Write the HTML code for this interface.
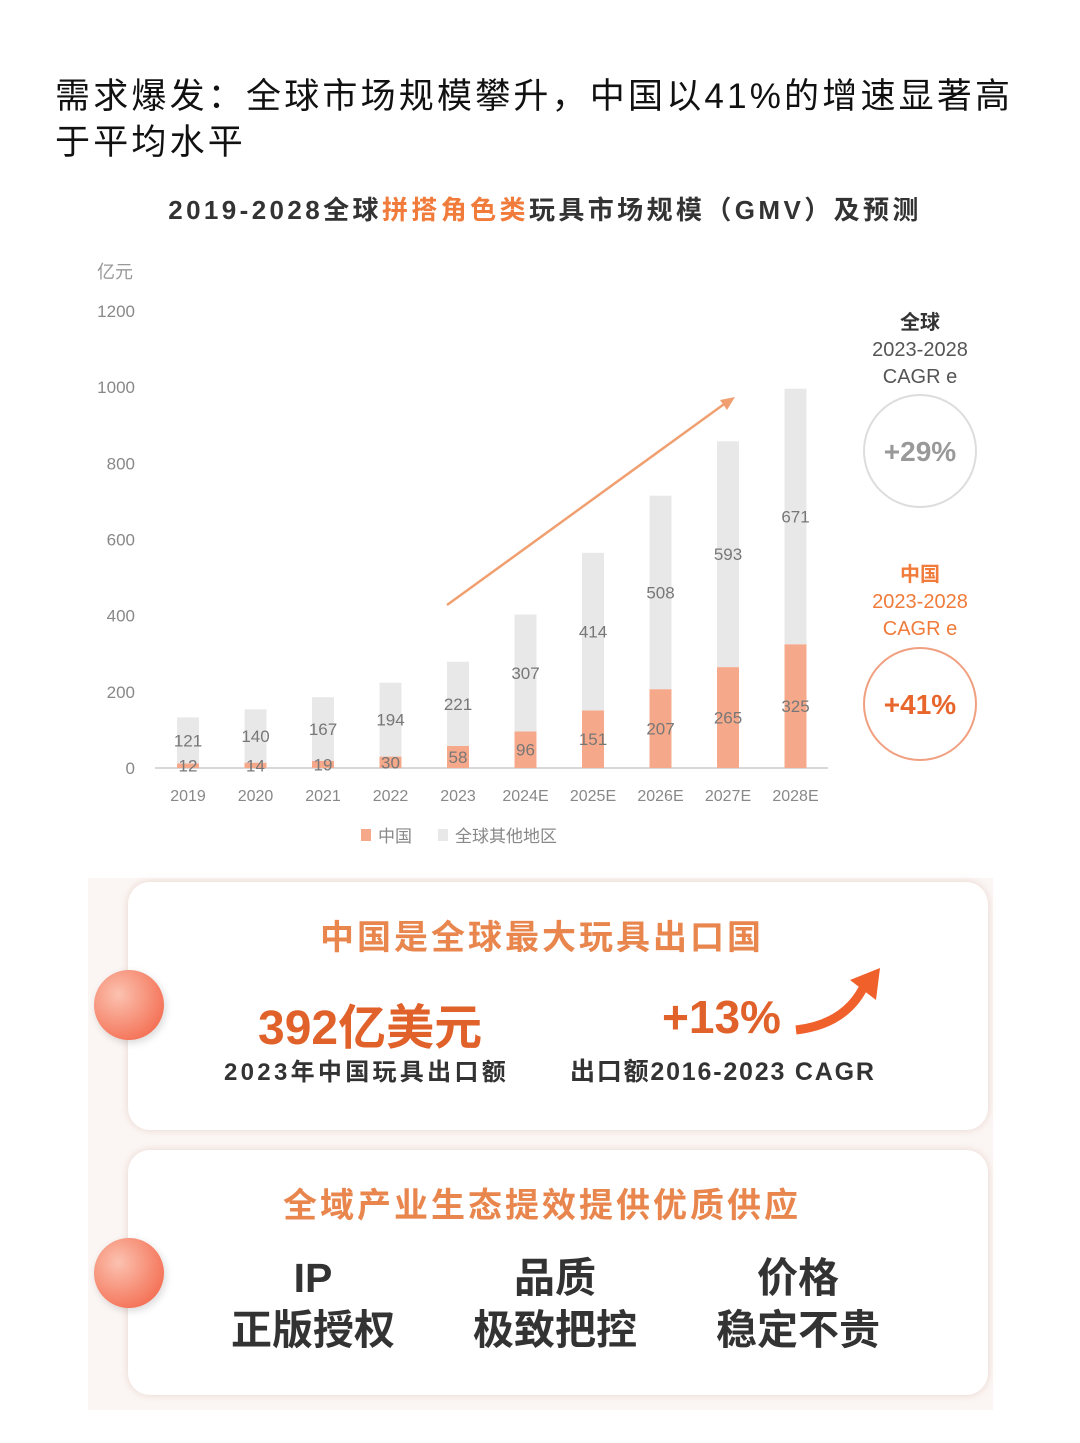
<!DOCTYPE html>
<html><head><meta charset="utf-8"><style>
body{margin:0;width:1080px;height:1443px;background:#fff;position:relative;overflow:hidden;font-family:"Liberation Sans","Noto Sans CJK SC",sans-serif}
.a{position:absolute}
.hdr{left:55px;font-size:35px;letter-spacing:3.2px;color:#111;line-height:46px;white-space:nowrap}
.card{position:absolute;left:128px;width:860px;background:#fff;border-radius:22px;box-shadow:0 0 8px rgba(200,150,130,.35)}
.dot{position:absolute;left:94px;width:70px;height:70px;border-radius:50%;background:radial-gradient(circle at 35% 35%,#fbc2b0,#f25a3c);box-shadow:2px 3px 8px rgba(0,0,0,.15)}
.ct{position:absolute;width:100%;text-align:center;color:#e8864e;font-weight:bold;font-size:34px;letter-spacing:3px}
.big{position:absolute;text-align:center;font-weight:bold;color:#333;font-size:41px;line-height:52px}
</style></head><body>
<div class="a hdr" style="top:74px">需求爆发：全球市场规模攀升，中国以41%的增速显著高</div>
<div class="a hdr" style="top:120px">于平均水平</div>
<div class="a" style="left:0;width:1090px;top:190px;text-align:center;font-size:26px;letter-spacing:3.4px;font-weight:bold;color:#333;white-space:nowrap">2019-2028全球<span style="color:#f07b3a">拼搭角色类</span>玩具市场规模（GMV）及预测</div>
<svg class="a" style="left:0;top:240px" width="1080" height="630">
<g id="g" transform="translate(0,-240)"></g>
</svg>
<div class="a" style="left:88px;top:878px;width:905px;height:532px;background:#fbf6f4"></div>
<div class="card" style="top:882px;height:248px">
<div class="ct" style="top:28px;left:-16px">中国是全球最大玩具出口国</div>
<div class="a" style="left:130px;top:106px;color:#e0612a;font-weight:bold;font-size:48px;white-space:nowrap">392亿美元</div>
<div class="a" style="left:96px;top:170px;color:#333;font-weight:bold;font-size:24px;letter-spacing:3.3px;white-space:nowrap">2023年中国玩具出口额</div>
<div class="a" style="left:534px;top:108px;color:#e0612a;font-weight:bold;font-size:46px">+13%</div>
<svg class="a" style="left:660px;top:80px" width="100" height="80"><path d="M8,68 Q60,62 78,20" stroke="#f0602a" stroke-width="9" fill="none"/><polygon points="92,6 62,18 88,38" fill="#f0602a"/></svg>
<div class="a" style="left:442px;top:170px;color:#333;font-weight:bold;font-size:25px;letter-spacing:1.8px;white-space:nowrap">出口额2016-2023 CAGR</div>
</div>
<div class="dot" style="top:970px"></div>
<div class="card" style="top:1150px;height:245px">
<div class="ct" style="top:28px;left:-16px">全域产业生态提效提供优质供应</div>
<div class="big" style="left:80px;width:210px;top:102px">IP<br>正版授权</div>
<div class="big" style="left:322px;width:210px;top:102px">品质<br>极致把控</div>
<div class="big" style="left:565px;width:210px;top:102px">价格<br>稳定不贵</div>
</div>
<div class="dot" style="top:1238px"></div>
<script>
const years=['2019','2020','2021','2022','2023','2024E','2025E','2026E','2027E','2028E'];
const china=[12,14,19,30,58,96,151,207,265,325];
const other=[121,140,167,194,221,307,414,508,593,671];
const yTicks=[0,200,400,600,800,1000,1200];
const NS='http://www.w3.org/2000/svg';
const g=document.getElementById('g');
const y=v=>768-v*(457/1200);
const x=i=>188+i*67.5;
function el(t,a,txt){const e=document.createElementNS(NS,t);for(const k in a)e.setAttribute(k,a[k]);if(txt!==undefined)e.textContent=txt;g.appendChild(e);return e;}
el('text',{x:115,y:278,'text-anchor':'middle','font-size':18,fill:'#999'},'亿元');
yTicks.forEach(t=>{const e=el('text',{x:135,y:y(t)+6,'text-anchor':'end','font-size':17,fill:'#888'},t);

});
el('line',{x1:155,x2:828,y1:768,y2:768,stroke:'#ccc','stroke-width':1.5});
years.forEach((yr,i)=>{
const cx=x(i),w=22;
const r1=el('rect',{x:cx-w/2,y:y(china[i]),width:w,height:768-y(china[i]),fill:'#f6a98a'});


const r2=el('rect',{x:cx-w/2,y:y(china[i]+other[i]),width:w,height:y(china[i])-y(china[i]+other[i]),fill:'#e8e8e8'});


const cy=Math.min((768+y(china[i]))/2,766);
const l1=el('text',{x:cx,y:cy+6,'text-anchor':'middle','font-size':17,fill:'#777'},china[i]);


const l2=el('text',{x:cx,y:(y(china[i])+y(china[i]+other[i]))/2+6,'text-anchor':'middle','font-size':17,fill:'#777'},other[i]);


const xl=el('text',{x:cx,y:801,'text-anchor':'middle','font-size':16,fill:'#888'},yr);


});
el('line',{x1:447,y1:605,x2:727,y2:402,stroke:'#f0a070','stroke-width':2.5});
el('polygon',{points:'735,397 720,400 727,410',fill:'#f0a070'});
el('rect',{x:361,y:829,width:10,height:12,fill:'#f6a98a'});
el('text',{x:378,y:842,'font-size':17,fill:'#888'},'中国');
el('rect',{x:438,y:829,width:10,height:12,fill:'#e8e8e8'});
el('text',{x:455,y:842,'font-size':17,fill:'#888'},'全球其他地区');
[['全球','#333',322,451,'#ddd','+29%','#999'],['中国','#f07b3a',574,704,'#f0a080','+41%','#e8652c']].forEach(c=>{
el('text',{x:920,y:c[2]+7,'text-anchor':'middle','font-size':20,'font-weight':'bold',fill:c[1]},c[0]);
el('text',{x:920,y:c[2]+34,'text-anchor':'middle','font-size':20,fill:c[1]==='#333'?'#555':c[1]},'2023-2028');
el('text',{x:920,y:c[2]+61,'text-anchor':'middle','font-size':20,fill:c[1]==='#333'?'#555':c[1]},'CAGR e');
el('circle',{cx:920,cy:c[3],r:56,fill:'none',stroke:c[4],'stroke-width':2});
el('text',{x:920,y:c[3]+10,'text-anchor':'middle','font-size':28,'font-weight':'bold',fill:c[6]},c[5]);
});
</script>
</body></html>
